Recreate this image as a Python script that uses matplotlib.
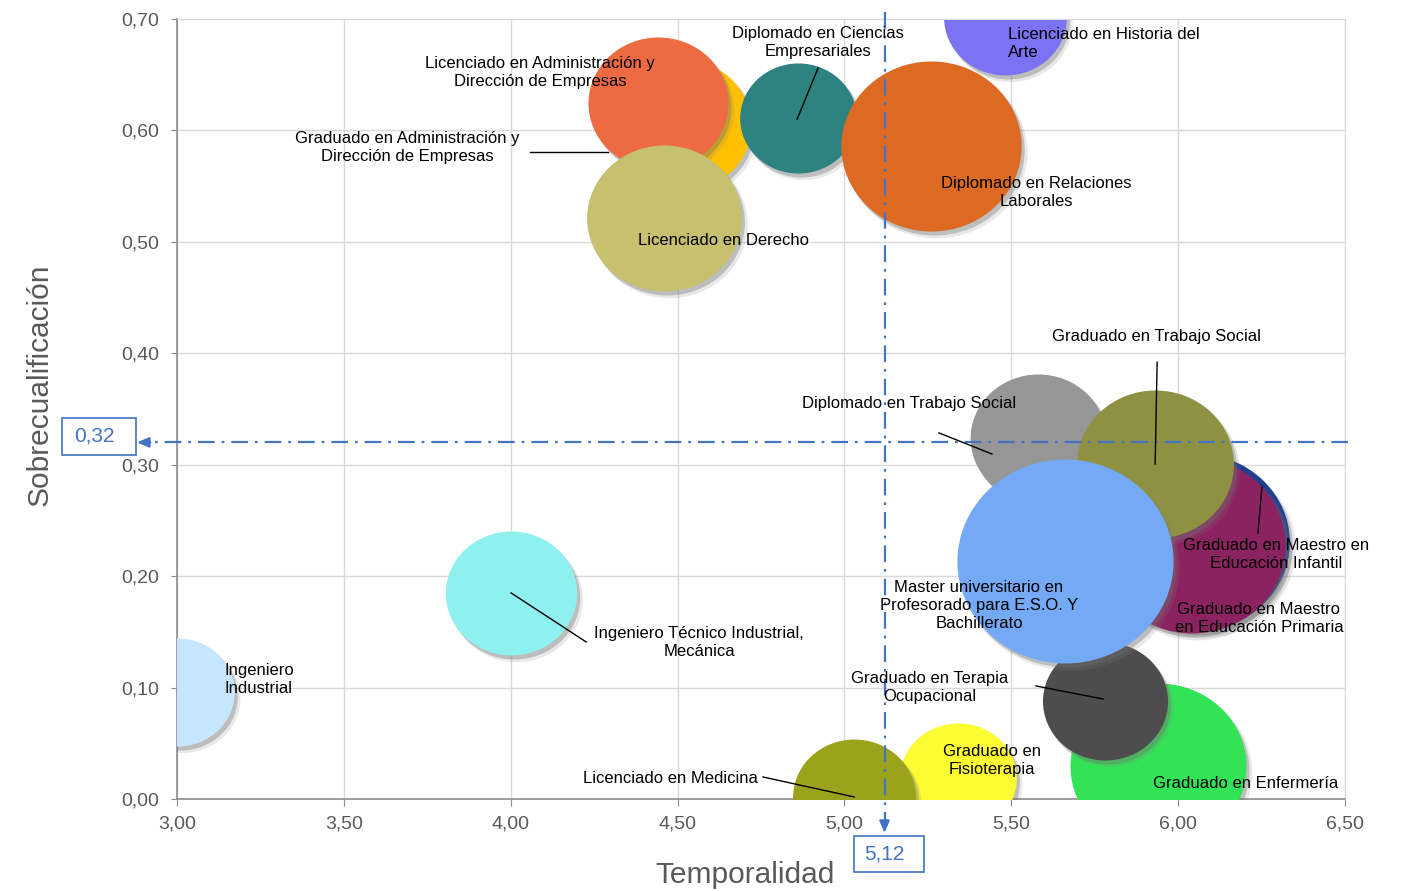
import numpy as np
import matplotlib
matplotlib.use('Agg')
import matplotlib.pyplot as plt
from matplotlib.path import Path
from matplotlib.patches import Rectangle
from matplotlib.transforms import offset_copy
from matplotlib.ticker import FuncFormatter, MultipleLocator

plt.rcParams['font.family'] = ['Liberation Sans', 'DejaVu Sans']
plt.rcParams['lines.scale_dashes'] = False

# datos por titulacion (orden de dibujo: de abajo a arriba)
titulaciones = [
    'Licenciado en Historia del\nArte',
    'Graduado en Administración y\nDirección de Empresas',
    'Licenciado en Administración y\nDirección de Empresas',
    'Licenciado en Derecho',
    'Diplomado en Ciencias\nEmpresariales',
    'Diplomado en Relaciones\nLaborales',
    'Diplomado en Trabajo Social',
    'Graduado en Maestro en\nEducación Infantil',
    'Graduado en Maestro\nen Educación Primaria',
    'Graduado en Trabajo Social',
    'Graduado en Enfermería',
    'Graduado en Terapia\nOcupacional',
    'Master universitario en\nProfesorado para E.S.O. Y\nBachillerato',
    'Graduado en\nFisioterapia',
    'Licenciado en Medicina',
    'Ingeniero Técnico Industrial,\nMecánica',
    'Ingeniero\nIndustrial',
]
temporalidad = [5.48, 4.51, 4.44, 4.46, 4.86, 5.26, 5.58, 6.05, 6.04, 5.93,
                5.94, 5.78, 5.66, 5.34, 5.03, 4.00, 3.00]
sobrecualificacion = [0.702, 0.605, 0.625, 0.521, 0.611, 0.586, 0.324, 0.231, 0.228, 0.301,
                      0.030, 0.088, 0.214, 0.019, 0.002, 0.185, 0.096]
tamano = [33.6, 43.6, 43.6, 53.3, 30.3, 72.3, 41.0, 79.2, 77.4, 54.8,
          68.9, 34.8, 104.0, 30.3, 33.6, 38.4, 29.2]
colores = ['#7B72F4', '#FFC000', '#EE6A40', '#C7C06F', '#2E8380', '#DD6A22', '#969696',
           '#1F3F8F', '#8B2360', '#8E9142', '#33E356', '#4D4D4D', '#74A9F5', '#FCFC32',
           '#9AA31B', '#8FF0F0', '#C6E6FF']

media_temporalidad = 5.12
media_sobrecualificacion = 0.32

# posicion de etiquetas: (x, y, ha, linea guia)
etiquetas = {
    0: (5.490, 0.678, 'left', None),
    1: (3.689, 0.585, 'center', (4.058, 0.5806, 4.292, 0.5806)),
    2: (4.088, 0.652, 'center', None),
    3: (4.639, 0.501, 'center', None),
    4: (4.921, 0.679, 'center', (4.921, 0.656, 4.858, 0.610)),
    5: (5.574, 0.544, 'center', None),
    6: (5.194, 0.3545, 'center', (5.283, 0.3285, 5.442, 0.3096)),
    7: (6.293, 0.219, 'center', (6.251, 0.280, 6.239, 0.2387)),
    8: (6.242, 0.1624, 'center', None),
    9: (5.934, 0.4146, 'center', (5.937, 0.392, 5.931, 0.3006)),
    10: (6.203, 0.0135, 'center', None),
    11: (5.256, 0.0996, 'center', (5.574, 0.1014, 5.775, 0.0897)),
    12: (5.403, 0.1732, 'center', None),
    13: (5.442, 0.0341, 'center', None),
    14: (4.741, 0.0188, 'right', (4.756, 0.0197, 5.029, 0.0018)),
    15: (4.564, 0.140, 'center', (4.001, 0.1849, 4.226, 0.1409)),
    16: (3.141, 0.1068, 'left', None),
}

azul = '#4472C4'
gris_txt = '#595959'

fig = plt.figure(figsize=(14.04, 8.91), dpi=100)
ax = fig.add_axes([0.1261, 0.1033, 0.8319, 0.8754])
ax.set_xlim(3, 6.5)
ax.set_ylim(0, 0.7)
ax.xaxis.set_major_locator(MultipleLocator(0.5))
ax.yaxis.set_major_locator(MultipleLocator(0.1))
coma = FuncFormatter(lambda v, p: f'{v:.2f}'.replace('.', ','))
ax.xaxis.set_major_formatter(coma)
ax.yaxis.set_major_formatter(coma)
ax.grid(True, color='#D9D9D9', lw=1)
ax.set_axisbelow(True)
for s in ['top', 'right']:
    ax.spines[s].set_color('#D9D9D9')
for s in ['left', 'bottom']:
    ax.spines[s].set_color('#8C8C8C')
    ax.spines[s].set_linewidth(1.2)
ax.tick_params(axis='y', direction='out', length=4, color='#8C8C8C',
               labelsize=14, labelcolor=gris_txt, pad=9)
ax.tick_params(axis='x', direction='out', length=5, color='#8C8C8C',
               labelsize=14, labelcolor=gris_txt, pad=7)

# marcador eliptico (burbujas algo mas anchas que altas)
circ = Path.unit_circle()
elipse = Path(circ.vertices * np.array([1.06, 1.0]), circ.codes)
escala = (2 * 1.06 * 0.72 * 10) ** 2

sombra1 = offset_copy(ax.transData, fig=fig, x=3, y=-4, units='dots')
sombra2 = offset_copy(ax.transData, fig=fig, x=5, y=-6, units='dots')

z = 2
for i in range(len(titulaciones)):
    s = tamano[i] * escala
    x, y = temporalidad[i], sobrecualificacion[i]
    ax.scatter([x], [y], s=s * 1.02, marker=elipse, color='#808080', alpha=0.18,
               linewidths=0, transform=sombra2, zorder=z)
    ax.scatter([x], [y], s=s, marker=elipse, color='#6E6E6E', alpha=0.35,
               linewidths=0, transform=sombra1, zorder=z + 0.1)
    ax.scatter([x], [y], s=s, marker=elipse, color=colores[i],
               linewidths=0, zorder=z + 0.2)
    z += 1

# lineas de media
ax.plot([media_temporalidad, media_temporalidad], [0.706, -0.0285], color=azul, lw=1.6,
        dashes=[12, 5, 2, 5], clip_on=False, zorder=60)
ax.annotate('', xy=(media_temporalidad, -0.0305), xytext=(media_temporalidad, -0.020),
            arrowprops=dict(arrowstyle='-|>,head_length=0.7,head_width=0.3', color=azul,
                            lw=1.6, shrinkA=0, shrinkB=0), annotation_clip=False, zorder=60)
ax.plot([6.509, 2.895], [media_sobrecualificacion, media_sobrecualificacion], color=azul,
        lw=1.6, dashes=[12, 5, 2, 5], clip_on=False, zorder=60)
ax.annotate('', xy=(2.880, media_sobrecualificacion), xytext=(2.92, media_sobrecualificacion),
            arrowprops=dict(arrowstyle='-|>,head_length=0.7,head_width=0.3', color=azul,
                            lw=1.6, shrinkA=0, shrinkB=0), annotation_clip=False, zorder=60)

# cajas con los valores medios
W, H = 1404.0, 891.0
x_media = fig.transFigure.inverted().transform(ax.transData.transform((media_temporalidad, 0)))[0]
fig.patches.append(Rectangle((62 / W, 1 - 455 / H), 74 / W, 37 / H,
                             transform=fig.transFigure, fc='white', ec=azul, lw=1.2))
fig.text(94 / W, 1 - 436.5 / H, f'{media_sobrecualificacion:.2f}'.replace('.', ','),
         color=azul, fontsize=15, ha='center', va='center')
fig.patches.append(Rectangle((x_media - 31 / W, 1 - 872 / H), 70 / W, 36 / H,
                             transform=fig.transFigure, fc='white', ec=azul, lw=1.2))
fig.text(x_media, 1 - 854 / H, f'{media_temporalidad:.2f}'.replace('.', ','),
         color=azul, fontsize=15, ha='center', va='center')

# etiquetas y lineas guia
for i, (tx, ty, ha, guia) in etiquetas.items():
    if guia is not None:
        ax.plot([guia[0], guia[2]], [guia[1], guia[3]], color='black', lw=1,
                zorder=80, clip_on=False)
    ax.text(tx, ty, titulaciones[i], ha=ha, va='center', fontsize=12,
            color='black', linespacing=1.25, zorder=90)

ax.set_xlabel('Temporalidad', fontsize=21.5, color=gris_txt)
ax.xaxis.set_label_coords(0.486, -0.0974)
ax.xaxis.label.set_va('center')
ax.set_ylabel('Sobrecualificación', fontsize=21.5, color=gris_txt)
ax.yaxis.set_label_coords(-0.1173, 0.531)
ax.yaxis.label.set_va('center')

fig.savefig('out.png', dpi=100)
